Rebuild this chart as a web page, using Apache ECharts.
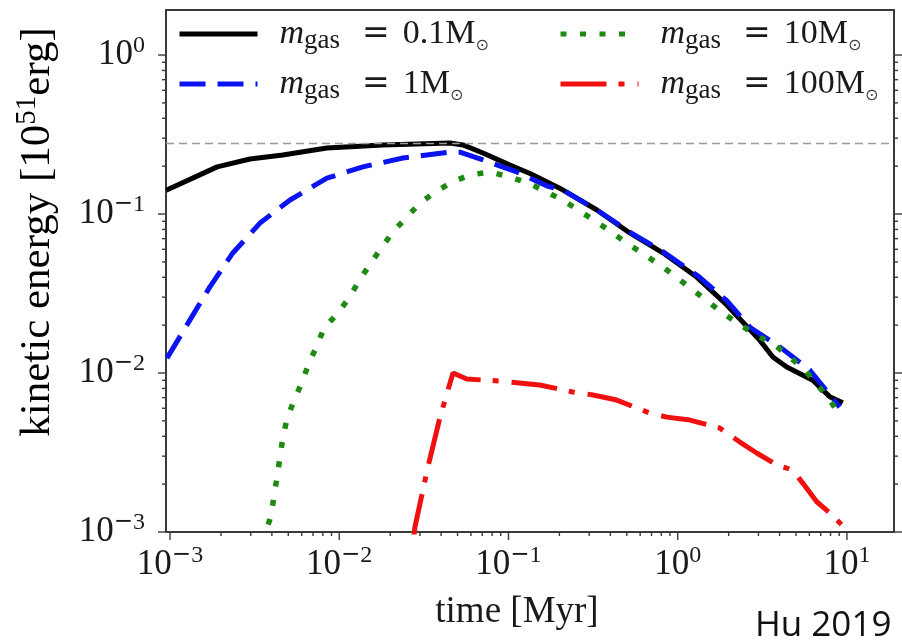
<!DOCTYPE html>
<html>
<head>
<meta charset="utf-8">
<script src="https://cdn.jsdelivr.net/npm/echarts@6/dist/echarts.min.js"></script>
<style>
html,body{margin:0;padding:0;background:#fff;}
#c{width:902px;height:643px;}
</style>
</head>
<body>
<div id="c"></div>
<script>
// ---------- data ----------
const seriesNames = ['0.1', '1', '10', '100'];

// m_gas = 0.1 Msun (black solid)
const timeA   = [9.5e-4, 1.9e-3, 2.97e-3, 4.64e-3, 8.45e-3, 0.0181, 0.0451, 0.0538, 0.0707, 0.102, 0.134, 0.209, 0.333, 0.521, 0.817, 1.30, 1.95, 3.05, 3.65, 4.41, 6.28, 7.91, 9.45];
const energyA = [0.141, 0.198, 0.222, 0.235, 0.260, 0.272, 0.280, 0.272, 0.242, 0.203, 0.180, 0.142, 0.106, 0.076, 0.057, 0.040, 0.0268, 0.0161, 0.0126, 0.0109, 0.0090, 0.0071, 0.0065];

// m_gas = 1 Msun (blue dashed)
const timeB   = [9.6e-4, 1.31e-3, 1.72e-3, 2.35e-3, 3.40e-3, 5.12e-3, 8.45e-3, 0.0138, 0.0238, 0.0451, 0.0516, 0.0707, 0.112, 0.169, 0.209, 0.333, 0.521, 0.817, 1.35, 1.95, 2.67, 4.01, 6.03, 9.06];
const energyB = [0.0124, 0.0215, 0.0348, 0.0569, 0.0877, 0.1225, 0.168, 0.198, 0.225, 0.245, 0.245, 0.219, 0.184, 0.150, 0.142, 0.106, 0.077, 0.058, 0.040, 0.0285, 0.0194, 0.0146, 0.01045, 0.0061];

// m_gas = 10 Msun (green dotted)
const timeC   = [3.5e-3, 3.95e-3, 4.11e-3, 4.29e-3, 4.47e-3, 4.64e-3, 4.91e-3, 5.39e-3, 6.03e-3, 6.62e-3, 7.38e-3, 8.13e-3, 9.82e-3, 0.0114, 0.0131, 0.0152, 0.0179, 0.0207, 0.0251, 0.0300, 0.0367, 0.0464, 0.0592, 0.0776, 0.102, 0.134, 0.209, 0.333, 0.521, 0.817, 1.23, 1.85, 2.39, 2.97, 3.75, 4.59, 5.63, 6.72, 7.91, 9.32];
const energyC = [8.5e-4, 1.26e-3, 1.66e-3, 2.22e-3, 2.96e-3, 3.90e-3, 5.14e-3, 6.67e-3, 8.77e-3, 0.01156, 0.0148, 0.0192, 0.0238, 0.0296, 0.0379, 0.0485, 0.0619, 0.0771, 0.0957, 0.117, 0.137, 0.159, 0.176, 0.184, 0.171, 0.155, 0.1225, 0.0891, 0.0638, 0.0465, 0.0333, 0.0238, 0.0198, 0.0171, 0.0150, 0.0126, 0.01045, 0.0084, 0.00676, 0.00521];

// m_gas = 100 Msun (red dash-dot)
const timeD   = [0.0275, 0.0280, 0.0334, 0.0394, 0.0439, 0.0470, 0.0567, 0.0889, 0.153, 0.240, 0.316, 0.436, 0.684, 0.863, 1.18, 1.77, 2.33, 2.93, 3.85, 4.78, 5.48, 6.63, 7.91, 9.32];
const energyD = [9.0e-4, 1.07e-3, 2.56e-3, 5.28e-3, 7.82e-3, 0.0100, 9.16e-3, 8.91e-3, 8.40e-3, 7.60e-3, 7.28e-3, 6.76e-3, 5.60e-3, 5.28e-3, 5.06e-3, 4.51e-3, 3.68e-3, 3.14e-3, 2.64e-3, 2.45e-3, 2.03e-3, 1.55e-3, 1.32e-3, 1.11e-3];

// reference level (grey dashed line)
const refEnergy = 0.28;

// axes
const xRange = [9.47e-4, 18.97];
const yRange = [1e-3, 1.92];
const xMajorTicks = [1e-3, 1e-2, 1e-1, 1, 10];
const yMajorTicks = [1e-3, 1e-2, 1e-1, 1];
const minorMultipliers = [2, 3, 4, 5, 6, 7, 8, 9];

// ---------- build ----------
function zip(a, b) { return a.map((v, i) => [v, b[i]]); }
function minorOf(majors, range) {
  const out = [];
  majors.forEach(m => minorMultipliers.forEach(k => {
    const v = m * k;
    if (v > range[0] && v < range[1]) out.push(v);
  }));
  return out;
}
const xMinorTicks = minorOf(xMajorTicks, xRange);
const yMinorTicks = minorOf(yMajorTicks, yRange);

const SERIF = '"Liberation Serif", "DejaVu Serif", serif';
const TXT = '#1a1a1a';
const TICK = '#3a3a3a';

function powLabel(v) {
  const e = Math.log10(v);
  const r = Math.round(e);
  if (Math.abs(e - r) > 1e-6) return '';
  if (r < 0) return '{b|10}{m|\u2212}{s|' + (-r) + '}';
  return '{b|10}{s|' + r + '}';
}
const labelRich = {
  b: { fontFamily: SERIF, fontSize: 35, lineHeight: 42, color: TXT },
  m: { fontFamily: '"DejaVu Sans", sans-serif', fontSize: 23, lineHeight: 23, verticalAlign: 'top', color: TXT },
  s: { fontFamily: SERIF, fontSize: 24, lineHeight: 24, verticalAlign: 'top', color: TXT }
};

function tickSeries(vals, dir, len) {
  return {
    type: 'custom', silent: true, clip: false, z: 10,
    data: vals.map(v => dir === 'x' ? [v, yRange[0]] : [xMajorTicks[0], v]),
    encode: { x: 0, y: 1 },
    tooltip: { show: false },
    renderItem: function (params, api) {
      const cs = params.coordSys;
      const p = api.coord([api.value(0), api.value(1)]);
      const st = { stroke: TICK, lineWidth: 1.4 };
      if (dir === 'x') {
        const yb = cs.y + cs.height;
        return { type: 'line', shape: { x1: p[0], y1: yb, x2: p[0], y2: yb + len }, style: st };
      }
      return {
        type: 'group', children: [
          { type: 'line', shape: { x1: cs.x - len, y1: p[1], x2: cs.x, y2: p[1] }, style: st },
          { type: 'line', shape: { x1: cs.x + cs.width, y1: p[1], x2: cs.x + cs.width + len, y2: p[1] }, style: st }
        ]
      };
    }
  };
}

const legendRich = {
  m: { fontFamily: SERIF, fontSize: 34, lineHeight: 40, fontStyle: 'italic', color: TXT, padding: [0, 0, 0, 17] },
  g: { fontFamily: SERIF, fontSize: 27, lineHeight: 25, verticalAlign: 'bottom', color: TXT },
  e: { fontFamily: '"DejaVu Serif", serif', fontSize: 33, lineHeight: 40, color: TXT, padding: [0, 13, 0, 22] },
  t: { fontFamily: SERIF, fontSize: 34, lineHeight: 40, color: TXT },
  o: { fontFamily: '"DejaVu Sans", sans-serif', fontSize: 16, lineHeight: 22, verticalAlign: 'bottom', color: '#444' }
};
function legendFmt(name) {
  return '{m|m}{g|gas}{e|=}{t|' + name + 'M}{o|\u2299}';
}
function legendCfg(names, left) {
  return {
    data: names, orient: 'vertical', left: left, top: 17, padding: 0,
    itemWidth: 78, itemHeight: 14, itemGap: 13, selectedMode: false,
    itemStyle: { opacity: 0, borderWidth: 0 },
    lineStyle: { width: 5 },
    formatter: legendFmt, textStyle: { rich: legendRich }
  };
}

const chart = echarts.init(document.getElementById('c'), null, { renderer: 'canvas' });
chart.setOption({
  backgroundColor: '#ffffff',
  animation: false,
  grid: { left: 166, top: 10, width: 728, height: 522, show: true, borderColor: '#3a3a3a', borderWidth: 2, backgroundColor: 'transparent' },
  xAxis: {
    type: 'log', logBase: 10, min: xRange[0], max: xRange[1],
    axisLine: { show: false }, axisTick: { show: false }, splitLine: { show: false }, minorTick: { show: false },
    axisLabel: { interval: 0, margin: 12, formatter: powLabel, rich: labelRich }
  },
  yAxis: {
    type: 'log', logBase: 10, min: yRange[0], max: yRange[1],
    axisLine: { show: false }, axisTick: { show: false }, splitLine: { show: false }, minorTick: { show: false },
    axisLabel: { interval: 0, margin: 21, formatter: powLabel, rich: labelRich }
  },
  legend: [legendCfg([seriesNames[0], seriesNames[1]], 177), legendCfg([seriesNames[2], seriesNames[3]], 558)],
  graphic: [
    {
      type: 'text', x: 517, y: 612, silent: true,
      style: { text: 'time [Myr]', font: '37px ' + SERIF, fill: TXT, align: 'center', verticalAlign: 'middle' }
    },
    {
      type: 'text', x: 38, y: 232, rotation: Math.PI / 2, silent: true,
      style: {
        text: '{a|kinetic energy [10}{s|51}{a|erg]}', align: 'center', verticalAlign: 'middle',
        rich: {
          a: { fontFamily: SERIF, fontSize: 43, lineHeight: 50, color: TXT },
          s: { fontFamily: SERIF, fontSize: 29, lineHeight: 29, verticalAlign: 'top', color: TXT }
        }
      }
    },
    {
      type: 'text', x: 755, y: 626, silent: true,
      style: { text: 'Hu 2019', font: '35px "Open Sans", "Noto Sans", sans-serif', fill: '#111', align: 'left', verticalAlign: 'middle' }
    }
  ],
  series: [
    {
      name: seriesNames[0], type: 'line', data: zip(timeA, energyA), symbol: 'none', color: '#000000', z: 3,
      lineStyle: { color: '#000000', width: 5, type: 'solid', join: 'round' },
      markLine: {
        silent: true, symbol: 'none', label: { show: false },
        lineStyle: { color: '#9a9a9a', width: 1.4, type: [8, 5] },
        data: [{ yAxis: refEnergy }]
      }
    },
    {
      name: seriesNames[1], type: 'line', data: zip(timeB, energyB), symbol: 'none', color: '#0a14f0', z: 4,
      lineStyle: { color: '#0a14f0', width: 5, type: [26, 12], cap: 'butt' }
    },
    {
      name: seriesNames[2], type: 'line', data: zip(timeC, energyC), symbol: 'none', color: '#1e8a12', z: 5,
      lineStyle: { color: '#1e8a12', width: 5.5, type: [6, 13.5], cap: 'butt' }
    },
    {
      name: seriesNames[3], type: 'line', data: zip(timeD, energyD), symbol: 'none', color: '#f01010', z: 6,
      lineStyle: { color: '#f01010', width: 5, type: [46, 12, 6, 13], cap: 'butt' }
    },
    tickSeries(xMajorTicks, 'x', 8),
    tickSeries(xMinorTicks, 'x', 4),
    tickSeries(yMajorTicks, 'y', 8),
    tickSeries(yMinorTicks, 'y', 4)
  ]
});
</script>
</body>
</html>
